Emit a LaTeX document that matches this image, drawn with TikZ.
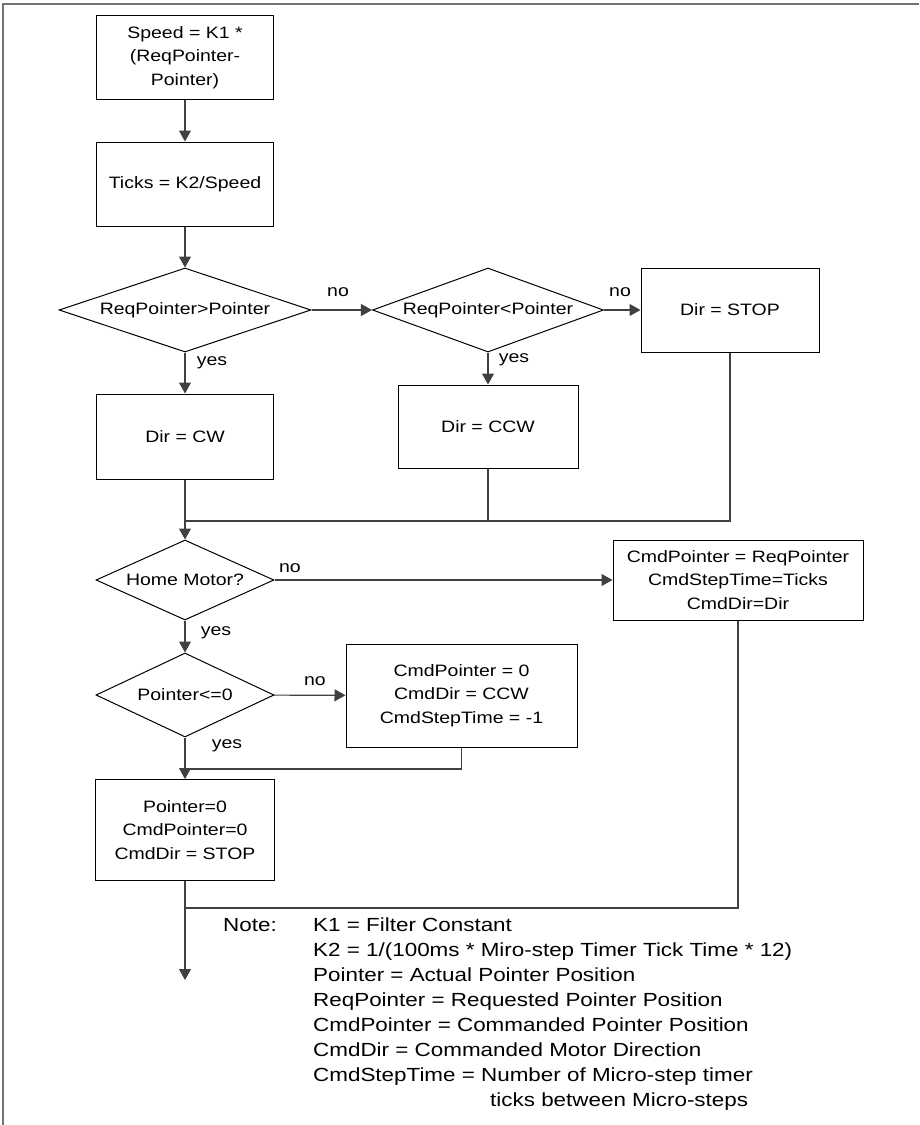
\documentclass[tikz,border=0pt]{standalone}
\usepackage{fontspec}
\setmainfont{Liberation Sans}[FakeStretch=1.18]
\usetikzlibrary{arrows.meta,shapes.geometric}
\begin{document}
\begin{tikzpicture}[x=1pt,y=-1pt,
  font=\fontsize{16.5}{23.5}\selectfont,
  proc/.style={draw=black,line width=1pt,align=center,inner sep=0pt},
  decision/.style={draw=black,line width=1pt,shape=diamond,inner sep=0pt,align=center},
  flow/.style={draw=black!75,line width=1.1pt},
  arr/.style={flow,-{Triangle[length=11pt,width=12pt]}},
  lbl/.style={inner sep=0pt},
  notetxt/.style={anchor=base west,inner sep=0pt,font=\fontsize{19}{25}\selectfont}]

\useasboundingbox (0,0) rectangle (919,1125);
% page frame (top and left edges)
\draw[black!55,line width=1.5pt] (3,1125) -- (3,4) -- (919,4);

% main column
\node[proc,minimum width=177,minimum height=84] (speed) at (185,57.5) {Speed = K1 *\\(ReqPointer-\\Pointer)};
\node[proc,minimum width=177,minimum height=84] (ticks) at (185,184) {Ticks = K2/Speed};
\node[decision,aspect=3,minimum width=252,minimum height=84] (gt) at (185,310) {ReqPointer>Pointer};
\node[decision,aspect=2.75,minimum width=231,minimum height=84] (lt) at (488,310) {ReqPointer<Pointer};
\node[proc,minimum width=178,minimum height=84] (stop) at (730,310) {Dir = STOP};
\node[proc,minimum width=177,minimum height=85] (cw) at (185,436.5) {Dir = CW};
\node[proc,minimum width=180,minimum height=83] (ccw) at (488,426.5) {Dir = CCW};
\node[decision,aspect=2.2,minimum width=178,minimum height=80] (home) at (185,580) {Home Motor?};
\node[proc,minimum width=250,minimum height=80] (cmd) at (738,580) {CmdPointer = ReqPointer\\CmdStepTime=Ticks\\CmdDir=Dir};
\node[decision,aspect=2.1,minimum width=178,minimum height=84] (zero) at (185,695) {Pointer<=0};
\node[proc,minimum width=231,minimum height=103] (homing) at (461.5,695.5) {CmdPointer = 0\\CmdDir = CCW\\CmdStepTime = -1};
\node[proc,minimum width=179,minimum height=101] (reset) at (185,830) {Pointer=0\\CmdPointer=0\\CmdDir = STOP};

% branch labels
\node[lbl] (no1) at (338,292) {no};
\node[lbl] (no2) at (620,292) {no};
\node[lbl] (yes1) at (212,363) {yes};
\node[lbl] (yes2) at (514,360) {yes};
\node[lbl] (no3) at (290,568) {no};
\node[lbl] (yes3) at (216,633) {yes};
\node[lbl] (no4) at (315,681) {no};
\node[lbl] (yes4) at (227,746) {yes};

% junction points
\coordinate (j1) at (185,521);
\coordinate (j2) at (185,769);
\coordinate (j3) at (185,908);
\coordinate (out) at (185,980);

% connectors
\draw[arr] (speed) -- (ticks);
\draw[arr] (ticks) -- (gt);
\draw[arr] (gt) -- (lt);
\draw[arr] (lt) -- (stop);
\draw[arr] (gt) -- (cw);
\draw[arr] (lt) -- (ccw);
\draw[flow] (stop.south) |- (j1);
\draw[flow] (ccw.south) -- (ccw.south |- j1);
\draw[arr] (cw) -- (home);
\draw[arr] (home) -- (cmd);
\draw[arr] (home) -- (zero);
\draw[arr] (zero) -- (homing);
\draw[flow] (homing.south) |- (j2);
\draw[arr] (zero) -- (reset);
\draw[flow] (cmd.south) |- (j3);
\draw[arr] (reset) -- (out);

% legend
\node[notetxt] (note) at (223,931) {Note:};
\node[notetxt] (k1) at (313,931) {K1 = Filter Constant};
\node[notetxt] (k2) at (313,956) {K2 = 1/(100ms * Miro-step Timer Tick Time * 12)};
\node[notetxt] (ptr) at (313,981) {Pointer = Actual Pointer Position};
\node[notetxt] (req) at (313,1006) {ReqPointer = Requested Pointer Position};
\node[notetxt] (cp) at (313,1031) {CmdPointer = Commanded Pointer Position};
\node[notetxt] (cd) at (313,1056) {CmdDir = Commanded Motor Direction};
\node[notetxt] (cst) at (313,1081) {CmdStepTime = Number of Micro-step timer};
\node[notetxt] (cst2) at (490,1106) {ticks between Micro-steps};
\end{tikzpicture}
\end{document}
